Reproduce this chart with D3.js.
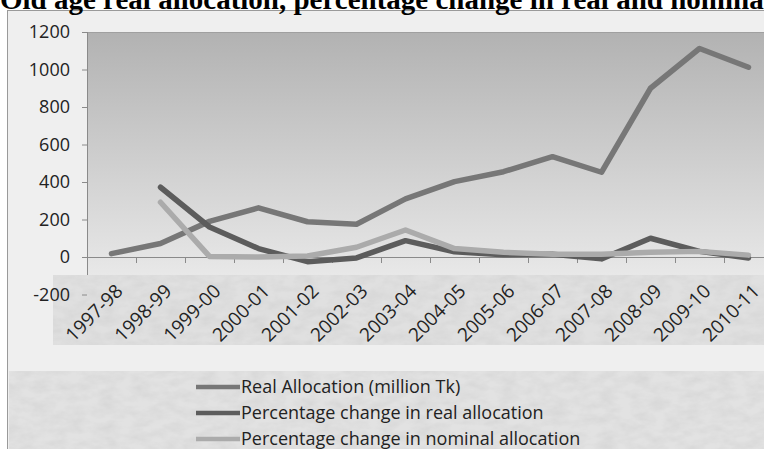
<!DOCTYPE html>
<html>
<head>
<meta charset="utf-8">
<script src="https://cdn.jsdelivr.net/npm/d3@7"></script>
<style>
  html, body { margin: 0; padding: 0; background: #fff; overflow: hidden; }
  svg { display: block; }
</style>
</head>
<body>
<div id="chart"></div>
<script>
  const years = ['1997-98', '1998-99', '1999-00', '2000-01', '2001-02', '2002-03', '2003-04',
    '2004-05', '2005-06', '2006-07', '2007-08', '2008-09', '2009-10', '2010-11'];

  // values
  const realAllocation = [18, 72, 190, 262, 188, 175, 310, 402, 455, 535, 452, 900, 1112, 1012];
  const pctReal = [null, 372, 160, 45, -25, -5, 87, 28, 12, 15, -10, 100, 30, -5];
  const pctNominal = [null, 292, 3, 0, 5, 52, 144, 45, 25, 15, 15, 25, 30, 10];

  const yTicks = [-200, 0, 200, 400, 600, 800, 1000, 1200];

  const seriesNames = ['Real Allocation  (million Tk)', 'Percentage change in real allocation', 'Percentage change in nominal allocation'];
  const seriesColors = ['#777777', '#5c5c5c', '#ababab'];
  const titleText = 'Old age real allocation, percentage change in real and nominal allocation';

  const width = 764, height = 449;
  const svg = d3.select('#chart').append('svg').attr('width', width).attr('height', height);

  const defs = svg.append('defs');
  const grad = defs.append('linearGradient').attr('id', 'plotbg').attr('x1', 0).attr('y1', 0).attr('x2', 0).attr('y2', 1);
  grad.append('stop').attr('offset', '0%').attr('stop-color', '#b2b2b2');
  grad.append('stop').attr('offset', '100%').attr('stop-color', '#e8e8e8');

  // noisy texture for label and legend strips
  const noise = defs.append('filter').attr('id', 'noise').attr('x', 0).attr('y', 0).attr('width', 1).attr('height', 1);
  noise.append('feTurbulence').attr('type', 'fractalNoise').attr('baseFrequency', '0.06 0.12').attr('numOctaves', 3).attr('seed', 4);
  noise.append('feColorMatrix').attr('type', 'matrix')
    .attr('values', '0 0 0 0 0.6  0 0 0 0 0.6  0 0 0 0 0.6  0.8 0 0 0 -0.25');
  noise.append('feComposite').attr('in2', 'SourceGraphic').attr('operator', 'in');

  // chart frame
  svg.append('rect').attr('x', 7.5).attr('y', 10.5).attr('width', 800).attr('height', 460)
    .attr('fill', '#efefef').attr('stroke', '#9a9a9a');

  // title, cut off by the top edge as in the source; sized so "nomina" ends at the right edge
  const title = svg.append('text')
    .attr('x', 0).attr('y', 9)
    .attr('font-family', '"Liberation Serif", "DejaVu Serif", serif')
    .attr('font-weight', 'bold').attr('font-size', 25)
    .text(titleText);
  const cut = titleText.indexOf('nominal') + 6;
  const subLen = title.node().getSubStringLength(0, cut);
  title.attr('font-size', 25 * 764 / subLen);

  const x = d3.scaleBand().domain(years).range([87, 87 + years.length * 49]);
  const y = d3.scaleLinear().domain([-200, 1200]).range([294.5, 32]);

  // plot area
  svg.append('rect').attr('x', 87).attr('y', 32).attr('width', 700).attr('height', 243)
    .attr('fill', 'url(#plotbg)');
  svg.append('line').attr('x1', 87).attr('x2', 787).attr('y1', 32.5).attr('y2', 32.5)
    .attr('stroke', '#a0a0a0');

  // textured strip behind the category labels
  const strip = svg.append('g');
  strip.append('rect').attr('x', 53).attr('y', 275).attr('width', 720).attr('height', 70).attr('fill', '#e0e0e0');
  strip.append('rect').attr('x', 53).attr('y', 275).attr('width', 720).attr('height', 70).attr('fill', '#fff').attr('filter', 'url(#noise)');

  // legend strip
  const lstrip = svg.append('g');
  lstrip.append('rect').attr('x', 9).attr('y', 371).attr('width', 760).attr('height', 80).attr('fill', '#e2e2e2');
  lstrip.append('rect').attr('x', 9).attr('y', 371).attr('width', 760).attr('height', 80).attr('fill', '#fff').attr('filter', 'url(#noise)');

  // y axis
  const yAxis = svg.append('g').attr('transform', 'translate(87,0)')
    .call(d3.axisLeft(y).tickValues(yTicks).tickSize(5).tickPadding(12).tickFormat(d => String(d)));
  yAxis.select('.domain').remove();
  yAxis.selectAll('.tick line').attr('stroke', '#8a8a8a');
  yAxis.selectAll('.tick text')
    .attr('font-family', '"Open Sans", sans-serif').attr('font-size', 18).attr('fill', '#222');
  svg.append('line').attr('x1', 87.5).attr('x2', 87.5).attr('y1', 32).attr('y2', 275)
    .attr('stroke', '#8a8a8a');

  // x axis at zero
  const xAxis = svg.append('g').attr('transform', `translate(0,${y(0)})`)
    .call(d3.axisBottom(x).tickSize(0).tickFormat(''));
  xAxis.select('.domain').attr('stroke', '#8a8a8a');
  xAxis.selectAll('.tick').remove();
  svg.append('g').selectAll('line')
    .data(years.map(d => x(d)).concat([x.range()[1]]))
    .join('line')
    .attr('x1', d => d + 0.5).attr('x2', d => d + 0.5)
    .attr('y1', y(0)).attr('y2', y(0) + 6)
    .attr('stroke', '#8a8a8a');

  // rotated category labels
  svg.append('g').selectAll('text')
    .data(years)
    .join('text')
    .attr('transform', d => `translate(${x(d) + x.bandwidth() / 2 + 3},${283}) rotate(-45)`)
    .attr('text-anchor', 'end')
    .attr('dy', '0.7em')
    .attr('font-family', '"Open Sans", sans-serif').attr('font-size', 19).attr('fill', '#222')
    .text(d => d);

  // lines
  const line = d3.line()
    .defined(d => d.v != null)
    .x(d => x(d.k) + x.bandwidth() / 2)
    .y(d => y(d.v));

  const series = [realAllocation, pctReal, pctNominal];
  svg.append('g').selectAll('path')
    .data(series)
    .join('path')
    .attr('d', s => line(s.map((v, i) => ({ k: years[i], v }))))
    .attr('fill', 'none')
    .attr('stroke', (s, i) => seriesColors[i])
    .attr('stroke-width', 5.5)
    .attr('stroke-linejoin', 'round')
    .attr('stroke-linecap', 'round');

  // legend
  const legend = svg.append('g').selectAll('g')
    .data(seriesNames)
    .join('g')
    .attr('transform', (d, i) => `translate(196,${387 + i * 26})`);
  legend.append('line')
    .attr('x1', 0).attr('x2', 44)
    .attr('stroke', (d, i) => seriesColors[i]).attr('stroke-width', 4.5);
  legend.append('text')
    .attr('x', 45).attr('dy', '0.36em')
    .attr('font-family', '"Open Sans", sans-serif').attr('font-size', 18).attr('fill', '#222')
    .text(d => d);
</script>
</body>
</html>
